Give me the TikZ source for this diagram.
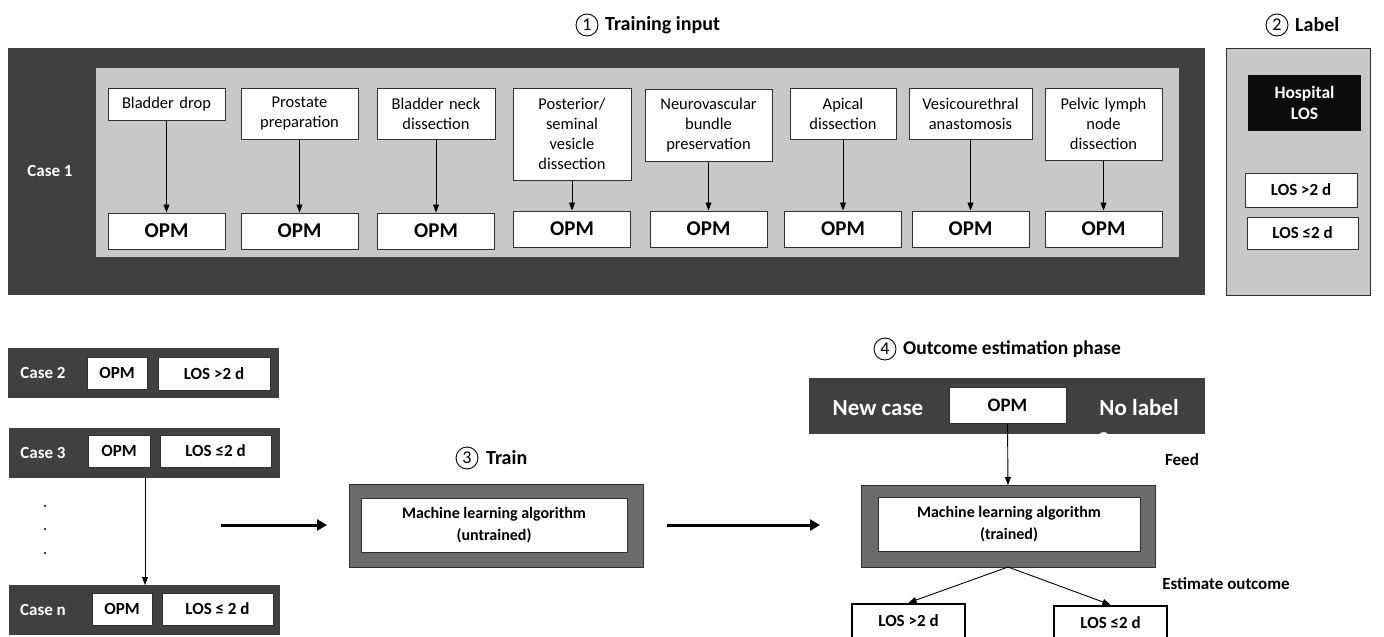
\documentclass[tikz,border=0pt]{standalone}
\usepackage{fontspec}
\setmainfont{Carlito}
\usetikzlibrary{arrows.meta}
\definecolor{darkbg}{HTML}{404040}
\definecolor{lightbg}{HTML}{C8C8C8}
\definecolor{midbg}{HTML}{6B6B6B}
\definecolor{edge}{HTML}{303030}
\tikzset{
  stepbox/.style={draw=edge, line width=1pt, fill=white, inner sep=0pt, align=center, text width=#1, minimum width=#1, font=\fontsize{16.5}{20}\selectfont},
  opmbox/.style={draw=edge, line width=1pt, fill=white, inner sep=0pt, minimum width=117pt, minimum height=36pt, font=\fontsize{21}{24}\selectfont\bfseries},
  smallbox/.style={draw=edge, line width=1pt, fill=white, inner sep=0pt, font=\fontsize{17}{20}\selectfont\bfseries},
  lbl/.style={inner sep=0pt, font=\fontsize{17}{20}\selectfont\bfseries},
  title/.style={inner sep=0pt, anchor=west, font=\fontsize{20}{24}\selectfont\bfseries},
  num/.style={circle, draw=black, line width=0.9pt, inner sep=0pt, minimum size=22pt, font=\fontsize{18}{20}\selectfont},
  thin/.style={draw=black, line width=0.9pt, -{Triangle[length=8pt,width=6pt]}},
  thick/.style={draw=black, line width=3pt, -{Triangle[length=10pt,width=11pt]}},
}
\begin{document}
\begin{tikzpicture}[x=1pt,y=-1pt]
\useasboundingbox (0,0) rectangle (1384,637);
\fill[white] (0,0) rectangle (1384,637);

% ---- 1 Training input ----
\node[num] (n1) at (587,25) {1};
\node[title] (t1) at (605,25) {Training input};
\fill[darkbg] (8,48) rectangle (1205,295);
\fill[lightbg] (96,68) rectangle (1179,257);
\node[lbl, text=white] (case1) at (50,171) {Case 1};

\node[stepbox=117pt, minimum height=32pt] (s1) at (166.5,104) {Bladder drop};
\node[stepbox=117pt, minimum height=51pt] (s2) at (299.5,113.5) {Prostate\\preparation};
\node[stepbox=118pt, minimum height=51pt] (s3) at (436,113.5) {Bladder neck\\dissection};
\node[stepbox=118pt, minimum height=92pt] (s4) at (572,134) {Posterior/\\seminal\\vesicle\\dissection};
\node[stepbox=127pt, minimum height=72pt] (s5) at (708.5,125) {Neurovascular\\bundle\\preservation};
\node[stepbox=106pt, minimum height=51pt] (s6) at (843,113.5) {Apical\\dissection};
\node[stepbox=123pt, minimum height=51pt] (s7) at (970.5,113.5) {Vesicourethral\\anastomosis};
\node[stepbox=117pt, minimum height=72pt] (s8) at (1103.5,124) {Pelvic lymph\\node\\dissection};

\node[opmbox] (o1) at (166.5,231) {OPM};
\node[opmbox] (o2) at (299.5,231) {OPM};
\node[opmbox] (o3) at (436,231) {OPM};
\node[opmbox] (o4) at (572,229) {OPM};
\node[opmbox] (o5) at (708.5,229) {OPM};
\node[opmbox] (o6) at (843,229) {OPM};
\node[opmbox] (o7) at (970.5,229) {OPM};
\node[opmbox] (o8) at (1103.5,229) {OPM};
\foreach \i in {1,...,8} { \draw[thin] (s\i.south) -- (o\i.north); }

% ---- 2 Label ----
\node[num] (n2) at (1277,25) {2};
\node[title] (t2) at (1295,25) {Label};
\draw[edge, fill=lightbg, line width=1pt] (1226,48) rectangle (1370,295);
\node[inner sep=0pt, fill=black!95, text=white, align=center, minimum width=113pt, minimum height=56pt, font=\fontsize{17.5}{21}\selectfont\bfseries] (hos) at (1304.5,103) {Hospital\\LOS};
\node[smallbox, minimum width=112pt, minimum height=34pt] (l1) at (1301,190) {LOS >2 d};
\node[smallbox, minimum width=111pt, minimum height=32pt] (l2) at (1302.5,233) {LOS ≤2 d};

% ---- Cases ----
\fill[darkbg] (8,348) rectangle (279,398);
\node[lbl, text=white] (c2) at (43,373) {Case 2};
\node[smallbox, minimum width=60pt, minimum height=32pt] (c2o) at (117,373) {OPM};
\node[smallbox, minimum width=112pt, minimum height=33pt] (c2l) at (214,373.5) {LOS >2 d};

\fill[darkbg] (9,428) rectangle (280,478);
\node[lbl, text=white] (c3) at (43,453) {Case 3};
\node[smallbox, minimum width=62pt, minimum height=32pt] (c3o) at (119,451) {OPM};
\node[smallbox, minimum width=111pt, minimum height=32pt] (c3l) at (215.5,451) {LOS ≤2 d};

\fill[darkbg] (9,585) rectangle (280,635);
\node[lbl, text=white] (cn) at (43,610) {Case n};
\node[smallbox, minimum width=60pt, minimum height=32pt] (cno) at (122,609) {OPM};
\node[smallbox, minimum width=111pt, minimum height=32pt] (cnl) at (217.5,609) {LOS ≤ 2 d};

\coordinate (c3b) at (145,478);
\coordinate (cnt) at (145,585);
\draw[thin] (c3b) -- (cnt);
\foreach \yy in {506,529,553} { \fill (45,\yy) circle (1.2pt); }

% ---- 3 Train ----
\node[num] (n3) at (467,458) {3};
\node[title] (t3) at (486,458) {Train};
\draw[edge, fill=midbg, line width=0.8pt] (349,484) rectangle (643,567);
\node[draw=edge, line width=1pt, fill=white, align=center, inner sep=0pt, minimum width=266pt, minimum height=54pt, font=\fontsize{16}{22}\selectfont\bfseries] (ml1) at (494,525) {Machine learning algorithm\\(untrained)};
\coordinate (a1s) at (221,525);
\coordinate (a1e) at (327,525);
\draw[thick] (a1s) -- (a1e);
\coordinate (a2s) at (667,525);
\coordinate (a2e) at (820,525);
\draw[thick] (a2s) -- (a2e);

% ---- 4 Outcome estimation ----
\node[num] (n4) at (885,349) {4};
\node[title, font=\fontsize{19.5}{24}\selectfont\bfseries] (t4) at (903,349) {Outcome estimation phase};
\fill[darkbg] (809,378) rectangle (1205,434);
\node[inner sep=0pt, text=white, font=\fontsize{23}{26}\selectfont\bfseries] (nc) at (878,408) {New case};
\node[opmbox, font=\fontsize{19}{22}\selectfont\bfseries] (no) at (1007.5,405) {OPM};
\node[inner sep=0pt, text=white, font=\fontsize{23}{26}\selectfont\bfseries] (nl) at (1139,408) {No label};
\begin{scope}
\clip (809,378) rectangle (1205,434);
\node[inner sep=0pt, text=white, font=\fontsize{23}{26}\selectfont\bfseries] (q) at (1104,441) {?};
\end{scope}

\draw[edge, fill=midbg, line width=0.8pt] (861,485) rectangle (1155,567);
\coordinate (tb) at (1008,485);
\node[draw=edge, line width=1pt, fill=white, align=center, inner sep=0pt, minimum width=262pt, minimum height=54pt, font=\fontsize{16}{22}\selectfont\bfseries] (ml2) at (1009,524) {Machine learning algorithm\\(trained)};
\draw[thin] (no.south) -- (tb);
\node[lbl] (feed) at (1182,460) {Feed};
\node[lbl] (est) at (1226,584) {Estimate outcome};

\node[smallbox, line width=2.5pt, draw=black, minimum width=113pt, minimum height=40pt] (r1) at (908.5,624) {\raisebox{7pt}{LOS >2 d}};
\node[smallbox, line width=2.5pt, draw=black, minimum width=113pt, minimum height=40pt] (r2) at (1110.5,626) {\raisebox{7pt}{LOS ≤2 d}};
\coordinate (tbb) at (1008,567);
\draw[thin] (tbb) -- (r1.north);
\draw[thin] (tbb) -- (r2.north);
\end{tikzpicture}
\end{document}
